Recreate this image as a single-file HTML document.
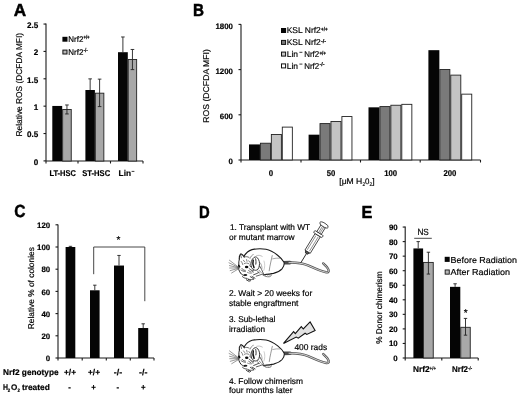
<!DOCTYPE html>
<html><head><meta charset="utf-8"><style>
html,body{margin:0;padding:0;background:#fff;}
svg{display:block;filter:blur(0.3px);}
text{font-family:"Liberation Sans",sans-serif;text-rendering:geometricPrecision;stroke:#000;stroke-width:0.18px;}
</style></head><body>
<svg width="520" height="397" viewBox="0 0 520 397">
<rect width="520" height="397" fill="#fff"/>
<text x="13.70" y="15.50" font-size="17.4" font-weight="bold" textLength="12.40" lengthAdjust="spacingAndGlyphs" fill="#000" style="stroke-width:0.5px">A</text>
<line x1="46.00" y1="23.50" x2="46.00" y2="161.00" stroke="#1a1a1a" stroke-width="1.1"/>
<line x1="46.00" y1="161.00" x2="143.00" y2="161.00" stroke="#1a1a1a" stroke-width="1.1"/>
<line x1="43.50" y1="160.90" x2="46.00" y2="160.90" stroke="#1a1a1a" stroke-width="1.1"/>
<text x="33.70" y="164.80" font-size="8.1" font-weight="bold" textLength="4.50" lengthAdjust="spacingAndGlyphs" fill="#000" >0</text>
<line x1="43.50" y1="133.53" x2="46.00" y2="133.53" stroke="#1a1a1a" stroke-width="1.1"/>
<text x="26.94" y="137.43" font-size="8.1" font-weight="bold" textLength="11.26" lengthAdjust="spacingAndGlyphs" fill="#000" >0.5</text>
<line x1="43.50" y1="106.16" x2="46.00" y2="106.16" stroke="#1a1a1a" stroke-width="1.1"/>
<text x="33.70" y="110.06" font-size="8.1" font-weight="bold" textLength="4.50" lengthAdjust="spacingAndGlyphs" fill="#000" >1</text>
<line x1="43.50" y1="78.79" x2="46.00" y2="78.79" stroke="#1a1a1a" stroke-width="1.1"/>
<text x="26.94" y="82.69" font-size="8.1" font-weight="bold" textLength="11.26" lengthAdjust="spacingAndGlyphs" fill="#000" >1.5</text>
<line x1="43.50" y1="51.42" x2="46.00" y2="51.42" stroke="#1a1a1a" stroke-width="1.1"/>
<text x="33.70" y="55.32" font-size="8.1" font-weight="bold" textLength="4.50" lengthAdjust="spacingAndGlyphs" fill="#000" >2</text>
<line x1="43.50" y1="24.05" x2="46.00" y2="24.05" stroke="#1a1a1a" stroke-width="1.1"/>
<text x="26.94" y="27.95" font-size="8.1" font-weight="bold" textLength="11.26" lengthAdjust="spacingAndGlyphs" fill="#000" >2.5</text>
<line x1="46.00" y1="161.00" x2="46.00" y2="163.50" stroke="#1a1a1a" stroke-width="1.1"/>
<line x1="78.00" y1="161.00" x2="78.00" y2="163.50" stroke="#1a1a1a" stroke-width="1.1"/>
<line x1="110.50" y1="161.00" x2="110.50" y2="163.50" stroke="#1a1a1a" stroke-width="1.1"/>
<line x1="143.00" y1="161.00" x2="143.00" y2="163.50" stroke="#1a1a1a" stroke-width="1.1"/>
<text x="22.20" y="84.70" font-size="8.4" text-anchor="middle" textLength="103.50" lengthAdjust="spacingAndGlyphs" transform="rotate(-90 22.20 84.70)">Relative ROS (DCFDA MFI)</text>
<rect x="52.30" y="105.95" width="9.90" height="55.05" fill="#050505"/>
<rect x="62.65" y="109.50" width="8.60" height="51.55" fill="#a8a8a8" stroke="#222" stroke-width="0.9"/>
<rect x="85.40" y="90.01" width="9.50" height="70.99" fill="#050505"/>
<rect x="95.35" y="93.18" width="8.50" height="67.87" fill="#a8a8a8" stroke="#222" stroke-width="0.9"/>
<rect x="118.00" y="52.20" width="9.80" height="108.80" fill="#050505"/>
<rect x="128.25" y="59.45" width="8.40" height="101.60" fill="#a8a8a8" stroke="#222" stroke-width="0.9"/>
<line x1="66.95" y1="104.97" x2="66.95" y2="113.94" stroke="#222" stroke-width="0.9"/>
<line x1="65.15" y1="104.97" x2="68.75" y2="104.97" stroke="#222" stroke-width="0.9"/>
<line x1="65.15" y1="113.94" x2="68.75" y2="113.94" stroke="#222" stroke-width="0.9"/>
<line x1="90.15" y1="78.86" x2="90.15" y2="90.01" stroke="#222" stroke-width="0.9"/>
<line x1="88.35" y1="78.86" x2="91.95" y2="78.86" stroke="#222" stroke-width="0.9"/>
<line x1="99.60" y1="79.13" x2="99.60" y2="106.60" stroke="#222" stroke-width="0.9"/>
<line x1="97.80" y1="79.13" x2="101.40" y2="79.13" stroke="#222" stroke-width="0.9"/>
<line x1="97.80" y1="106.60" x2="101.40" y2="106.60" stroke="#222" stroke-width="0.9"/>
<line x1="122.90" y1="36.97" x2="122.90" y2="52.20" stroke="#222" stroke-width="0.9"/>
<line x1="121.10" y1="36.97" x2="124.70" y2="36.97" stroke="#222" stroke-width="0.9"/>
<line x1="132.45" y1="49.48" x2="132.45" y2="69.61" stroke="#222" stroke-width="0.9"/>
<line x1="130.65" y1="49.48" x2="134.25" y2="49.48" stroke="#222" stroke-width="0.9"/>
<line x1="130.65" y1="69.61" x2="134.25" y2="69.61" stroke="#222" stroke-width="0.9"/>
<text x="49.40" y="176.00" font-size="8.4" font-weight="bold" textLength="26.60" lengthAdjust="spacingAndGlyphs" fill="#000" >LT-HSC</text>
<text x="82.20" y="176.00" font-size="8.4" font-weight="bold" textLength="28.00" lengthAdjust="spacingAndGlyphs" fill="#000" >ST-HSC</text>
<text x="118.60" y="176.00" font-size="8.4" font-weight="bold" textLength="12.40" lengthAdjust="spacingAndGlyphs" fill="#000" >Lin</text>
<line x1="131.60" y1="171.40" x2="134.40" y2="171.40" stroke="#222" stroke-width="0.9"/>
<rect x="62.40" y="36.80" width="5.10" height="4.90" fill="#050505"/>
<text x="68.30" y="41.90" font-size="8.2" textLength="15.00" lengthAdjust="spacingAndGlyphs" fill="#000" >Nrf2</text>
<text x="83.40" y="39.20" font-size="5.6" font-weight="bold" textLength="6.20" lengthAdjust="spacingAndGlyphs" fill="#000" >+/+</text>
<rect x="62.90" y="50.10" width="4.10" height="3.90" fill="#b8b8b8" stroke="#111" stroke-width="1.0"/>
<text x="68.30" y="54.70" font-size="8.2" textLength="15.00" lengthAdjust="spacingAndGlyphs" fill="#000" >Nrf2</text>
<text x="83.40" y="52.00" font-size="5.6" font-weight="bold" textLength="4.40" lengthAdjust="spacingAndGlyphs" fill="#000" >-/-</text>
<text x="193.10" y="15.50" font-size="17.4" font-weight="bold" textLength="11.00" lengthAdjust="spacingAndGlyphs" fill="#000" style="stroke-width:0.5px">B</text>
<line x1="241.00" y1="24.20" x2="241.00" y2="160.00" stroke="#1a1a1a" stroke-width="1.1"/>
<line x1="241.00" y1="160.00" x2="480.50" y2="160.00" stroke="#1a1a1a" stroke-width="1.1"/>
<line x1="238.50" y1="160.00" x2="241.00" y2="160.00" stroke="#1a1a1a" stroke-width="1.1"/>
<text x="228.61" y="164.10" font-size="7.9" font-weight="bold" textLength="4.39" lengthAdjust="spacingAndGlyphs" fill="#000" >0</text>
<line x1="238.50" y1="114.80" x2="241.00" y2="114.80" stroke="#1a1a1a" stroke-width="1.1"/>
<text x="219.82" y="118.90" font-size="7.9" font-weight="bold" textLength="13.18" lengthAdjust="spacingAndGlyphs" fill="#000" >600</text>
<line x1="238.50" y1="69.60" x2="241.00" y2="69.60" stroke="#1a1a1a" stroke-width="1.1"/>
<text x="215.43" y="73.70" font-size="7.9" font-weight="bold" textLength="17.57" lengthAdjust="spacingAndGlyphs" fill="#000" >1200</text>
<line x1="238.50" y1="24.40" x2="241.00" y2="24.40" stroke="#1a1a1a" stroke-width="1.1"/>
<text x="215.43" y="28.50" font-size="7.9" font-weight="bold" textLength="17.57" lengthAdjust="spacingAndGlyphs" fill="#000" >1800</text>
<line x1="241.00" y1="160.00" x2="241.00" y2="162.50" stroke="#1a1a1a" stroke-width="1.1"/>
<line x1="301.00" y1="160.00" x2="301.00" y2="162.50" stroke="#1a1a1a" stroke-width="1.1"/>
<line x1="360.50" y1="160.00" x2="360.50" y2="162.50" stroke="#1a1a1a" stroke-width="1.1"/>
<line x1="420.20" y1="160.00" x2="420.20" y2="162.50" stroke="#1a1a1a" stroke-width="1.1"/>
<line x1="480.50" y1="160.00" x2="480.50" y2="162.50" stroke="#1a1a1a" stroke-width="1.1"/>
<text x="209.30" y="85.90" font-size="8.4" text-anchor="middle" textLength="73.60" lengthAdjust="spacingAndGlyphs" transform="rotate(-90 209.30 85.90)">ROS (DCFDA MFI)</text>
<rect x="249.00" y="144.42" width="10.95" height="15.58" fill="#050505"/>
<rect x="260.40" y="143.22" width="10.05" height="16.73" fill="#7a7a7a" stroke="#222" stroke-width="0.9"/>
<rect x="271.35" y="134.45" width="10.05" height="25.50" fill="#c4c4c4" stroke="#222" stroke-width="0.9"/>
<rect x="282.30" y="127.11" width="10.05" height="32.84" fill="#ffffff" stroke="#222" stroke-width="0.9"/>
<rect x="308.60" y="134.68" width="10.95" height="25.32" fill="#050505"/>
<rect x="320.00" y="123.59" width="10.05" height="36.36" fill="#7a7a7a" stroke="#222" stroke-width="0.9"/>
<rect x="330.95" y="121.49" width="10.05" height="38.46" fill="#c4c4c4" stroke="#222" stroke-width="0.9"/>
<rect x="341.90" y="116.55" width="10.05" height="43.40" fill="#ffffff" stroke="#222" stroke-width="0.9"/>
<rect x="368.50" y="107.33" width="10.95" height="52.67" fill="#050505"/>
<rect x="379.90" y="106.58" width="10.05" height="53.37" fill="#7a7a7a" stroke="#222" stroke-width="0.9"/>
<rect x="390.85" y="105.24" width="10.05" height="54.71" fill="#c4c4c4" stroke="#222" stroke-width="0.9"/>
<rect x="401.80" y="104.34" width="10.05" height="55.61" fill="#ffffff" stroke="#222" stroke-width="0.9"/>
<rect x="428.40" y="50.17" width="10.95" height="109.83" fill="#050505"/>
<rect x="439.80" y="69.50" width="10.05" height="90.45" fill="#7a7a7a" stroke="#222" stroke-width="0.9"/>
<rect x="450.75" y="75.12" width="10.05" height="84.83" fill="#c4c4c4" stroke="#222" stroke-width="0.9"/>
<rect x="461.70" y="94.15" width="10.05" height="65.80" fill="#ffffff" stroke="#222" stroke-width="0.9"/>
<text x="268.70" y="176.40" font-size="8.4" font-weight="bold" textLength="4.40" lengthAdjust="spacingAndGlyphs" fill="#000" >0</text>
<text x="326.70" y="176.40" font-size="8.4" font-weight="bold" textLength="8.60" lengthAdjust="spacingAndGlyphs" fill="#000" >50</text>
<text x="384.20" y="176.40" font-size="8.4" font-weight="bold" textLength="13.00" lengthAdjust="spacingAndGlyphs" fill="#000" >100</text>
<text x="443.40" y="176.40" font-size="8.4" font-weight="bold" textLength="13.00" lengthAdjust="spacingAndGlyphs" fill="#000" >200</text>
<text x="339.30" y="183.50" font-size="8.2" textLength="23.00" lengthAdjust="spacingAndGlyphs" fill="#000" >[μM H</text>
<text x="362.40" y="185.50" font-size="5.4" textLength="2.60" lengthAdjust="spacingAndGlyphs" fill="#000" >2</text>
<text x="365.00" y="183.50" font-size="8.2" textLength="4.40" lengthAdjust="spacingAndGlyphs" fill="#000" >0</text>
<text x="369.40" y="185.50" font-size="5.4" textLength="2.60" lengthAdjust="spacingAndGlyphs" fill="#000" >2</text>
<text x="372.20" y="183.50" font-size="8.2" textLength="2.40" lengthAdjust="spacingAndGlyphs" fill="#000" >]</text>
<rect x="281.00" y="28.00" width="5.10" height="5.00" fill="#050505"/>
<text x="286.70" y="33.10" font-size="8.4" textLength="34.10" lengthAdjust="spacingAndGlyphs" fill="#000" >KSL Nrf2</text>
<text x="321.00" y="30.90" font-size="5.6" font-weight="bold" textLength="6.60" lengthAdjust="spacingAndGlyphs" fill="#000" >+/+</text>
<rect x="281.50" y="40.40" width="4.10" height="4.00" fill="#7a7a7a" stroke="#111" stroke-width="1.0"/>
<text x="286.70" y="45.00" font-size="8.4" textLength="34.10" lengthAdjust="spacingAndGlyphs" fill="#000" >KSL Nrf2</text>
<text x="321.00" y="42.80" font-size="5.4" font-weight="bold" textLength="5.20" lengthAdjust="spacingAndGlyphs" fill="#000" >-/-</text>
<rect x="281.50" y="52.10" width="4.10" height="4.00" fill="#c4c4c4" stroke="#111" stroke-width="1.0"/>
<text x="286.70" y="56.70" font-size="8.4" textLength="11.30" lengthAdjust="spacingAndGlyphs" fill="#000" >Lin</text>
<line x1="299.40" y1="52.30" x2="302.40" y2="52.30" stroke="#222" stroke-width="0.9"/>
<text x="304.20" y="56.70" font-size="8.4" textLength="15.00" lengthAdjust="spacingAndGlyphs" fill="#000" >Nrf2</text>
<text x="319.40" y="54.50" font-size="5.6" font-weight="bold" textLength="6.60" lengthAdjust="spacingAndGlyphs" fill="#000" >+/+</text>
<rect x="281.50" y="63.90" width="4.10" height="4.00" fill="#ffffff" stroke="#111" stroke-width="1.0"/>
<text x="286.70" y="68.50" font-size="8.4" textLength="11.30" lengthAdjust="spacingAndGlyphs" fill="#000" >Lin</text>
<line x1="299.40" y1="64.10" x2="302.40" y2="64.10" stroke="#222" stroke-width="0.9"/>
<text x="304.20" y="68.50" font-size="8.4" textLength="15.00" lengthAdjust="spacingAndGlyphs" fill="#000" >Nrf2</text>
<text x="319.40" y="66.30" font-size="5.4" font-weight="bold" textLength="5.20" lengthAdjust="spacingAndGlyphs" fill="#000" >-/-</text>
<text x="14.30" y="217.20" font-size="17.4" font-weight="bold" textLength="11.20" lengthAdjust="spacingAndGlyphs" fill="#000" style="stroke-width:0.5px">C</text>
<line x1="58.00" y1="224.60" x2="58.00" y2="358.00" stroke="#1a1a1a" stroke-width="1.1"/>
<line x1="58.00" y1="358.00" x2="154.00" y2="358.00" stroke="#1a1a1a" stroke-width="1.1"/>
<line x1="55.50" y1="358.00" x2="58.00" y2="358.00" stroke="#1a1a1a" stroke-width="1.1"/>
<text x="45.81" y="361.10" font-size="7.9" font-weight="bold" textLength="4.39" lengthAdjust="spacingAndGlyphs" fill="#000" >0</text>
<line x1="55.50" y1="335.80" x2="58.00" y2="335.80" stroke="#1a1a1a" stroke-width="1.1"/>
<text x="41.41" y="338.90" font-size="7.9" font-weight="bold" textLength="8.79" lengthAdjust="spacingAndGlyphs" fill="#000" >20</text>
<line x1="55.50" y1="313.60" x2="58.00" y2="313.60" stroke="#1a1a1a" stroke-width="1.1"/>
<text x="41.41" y="316.70" font-size="7.9" font-weight="bold" textLength="8.79" lengthAdjust="spacingAndGlyphs" fill="#000" >40</text>
<line x1="55.50" y1="291.40" x2="58.00" y2="291.40" stroke="#1a1a1a" stroke-width="1.1"/>
<text x="41.41" y="294.50" font-size="7.9" font-weight="bold" textLength="8.79" lengthAdjust="spacingAndGlyphs" fill="#000" >60</text>
<line x1="55.50" y1="269.20" x2="58.00" y2="269.20" stroke="#1a1a1a" stroke-width="1.1"/>
<text x="41.41" y="272.30" font-size="7.9" font-weight="bold" textLength="8.79" lengthAdjust="spacingAndGlyphs" fill="#000" >80</text>
<line x1="55.50" y1="247.00" x2="58.00" y2="247.00" stroke="#1a1a1a" stroke-width="1.1"/>
<text x="37.02" y="250.10" font-size="7.9" font-weight="bold" textLength="13.18" lengthAdjust="spacingAndGlyphs" fill="#000" >100</text>
<line x1="55.50" y1="224.80" x2="58.00" y2="224.80" stroke="#1a1a1a" stroke-width="1.1"/>
<text x="37.02" y="227.90" font-size="7.9" font-weight="bold" textLength="13.18" lengthAdjust="spacingAndGlyphs" fill="#000" >120</text>
<line x1="58.00" y1="358.00" x2="58.00" y2="360.50" stroke="#1a1a1a" stroke-width="1.1"/>
<line x1="82.20" y1="358.00" x2="82.20" y2="360.50" stroke="#1a1a1a" stroke-width="1.1"/>
<line x1="106.30" y1="358.00" x2="106.30" y2="360.50" stroke="#1a1a1a" stroke-width="1.1"/>
<line x1="130.30" y1="358.00" x2="130.30" y2="360.50" stroke="#1a1a1a" stroke-width="1.1"/>
<line x1="154.00" y1="358.00" x2="154.00" y2="360.50" stroke="#1a1a1a" stroke-width="1.1"/>
<text x="33.90" y="288.20" font-size="8.4" text-anchor="middle" textLength="82.00" lengthAdjust="spacingAndGlyphs" transform="rotate(-90 33.90 288.20)">Relative % of colonies</text>
<rect x="65.60" y="247.00" width="9.70" height="111.00" fill="#050505"/>
<line x1="70.45" y1="246.33" x2="70.45" y2="247.00" stroke="#222" stroke-width="0.9"/>
<line x1="68.75" y1="246.33" x2="72.15" y2="246.33" stroke="#222" stroke-width="0.9"/>
<rect x="90.00" y="290.29" width="9.60" height="67.71" fill="#050505"/>
<line x1="94.80" y1="285.18" x2="94.80" y2="290.29" stroke="#222" stroke-width="0.9"/>
<line x1="93.10" y1="285.18" x2="96.50" y2="285.18" stroke="#222" stroke-width="0.9"/>
<rect x="114.00" y="265.54" width="10.00" height="92.46" fill="#050505"/>
<line x1="119.00" y1="255.44" x2="119.00" y2="265.54" stroke="#222" stroke-width="0.9"/>
<line x1="117.30" y1="255.44" x2="120.70" y2="255.44" stroke="#222" stroke-width="0.9"/>
<rect x="138.20" y="328.03" width="10.00" height="29.97" fill="#050505"/>
<line x1="143.20" y1="323.81" x2="143.20" y2="328.03" stroke="#222" stroke-width="0.9"/>
<line x1="141.50" y1="323.81" x2="144.90" y2="323.81" stroke="#222" stroke-width="0.9"/>
<polyline points="93.7,274.2 93.7,247.0 144.8,247.0 144.8,301.2" fill="none" stroke="#333" stroke-width="0.9"/>
<text x="118.40" y="243.40" font-size="10.0" text-anchor="middle" fill="#000" >*</text>
<text x="3.00" y="375.40" font-size="8.2" font-weight="bold" textLength="55.60" lengthAdjust="spacingAndGlyphs" fill="#000" >Nrf2 genotype</text>
<text x="2.90" y="390.20" font-size="8.2" font-weight="bold" textLength="5.00" lengthAdjust="spacingAndGlyphs" fill="#000" >H</text>
<text x="7.80" y="392.20" font-size="5.0" font-weight="bold" textLength="2.40" lengthAdjust="spacingAndGlyphs" fill="#000" >2</text>
<text x="10.90" y="390.20" font-size="8.2" font-weight="bold" textLength="6.30" lengthAdjust="spacingAndGlyphs" fill="#000" >O</text>
<text x="17.40" y="392.20" font-size="5.0" font-weight="bold" textLength="2.40" lengthAdjust="spacingAndGlyphs" fill="#000" >2</text>
<text x="21.90" y="390.20" font-size="8.2" font-weight="bold" textLength="27.90" lengthAdjust="spacingAndGlyphs" fill="#000" >treated</text>
<text x="64.00" y="375.40" font-size="8.4" font-weight="bold" textLength="12.00" lengthAdjust="spacingAndGlyphs" fill="#000" >+/+</text>
<text x="88.00" y="375.40" font-size="8.4" font-weight="bold" textLength="12.00" lengthAdjust="spacingAndGlyphs" fill="#000" >+/+</text>
<text x="113.80" y="375.40" font-size="8.4" font-weight="bold" textLength="8.40" lengthAdjust="spacingAndGlyphs" fill="#000" >-/-</text>
<text x="139.00" y="375.40" font-size="8.4" font-weight="bold" textLength="8.40" lengthAdjust="spacingAndGlyphs" fill="#000" >-/-</text>
<text x="68.30" y="390.20" font-size="8.4" font-weight="bold" textLength="2.60" lengthAdjust="spacingAndGlyphs" fill="#000" >-</text>
<text x="91.30" y="390.20" font-size="8.4" font-weight="bold" textLength="4.60" lengthAdjust="spacingAndGlyphs" fill="#000" >+</text>
<text x="116.60" y="390.20" font-size="8.4" font-weight="bold" textLength="2.60" lengthAdjust="spacingAndGlyphs" fill="#000" >-</text>
<text x="140.90" y="390.20" font-size="8.4" font-weight="bold" textLength="4.60" lengthAdjust="spacingAndGlyphs" fill="#000" >+</text>
<text x="361.60" y="218.20" font-size="17.4" font-weight="bold" textLength="10.90" lengthAdjust="spacingAndGlyphs" fill="#000" style="stroke-width:0.5px">E</text>
<line x1="405.20" y1="226.60" x2="405.20" y2="358.00" stroke="#1a1a1a" stroke-width="1.1"/>
<line x1="405.20" y1="358.00" x2="478.20" y2="358.00" stroke="#1a1a1a" stroke-width="1.1"/>
<line x1="402.70" y1="358.00" x2="405.20" y2="358.00" stroke="#1a1a1a" stroke-width="1.1"/>
<text x="393.31" y="361.00" font-size="7.9" font-weight="bold" textLength="4.39" lengthAdjust="spacingAndGlyphs" fill="#000" >0</text>
<line x1="402.70" y1="343.45" x2="405.20" y2="343.45" stroke="#1a1a1a" stroke-width="1.1"/>
<text x="388.91" y="346.45" font-size="7.9" font-weight="bold" textLength="8.79" lengthAdjust="spacingAndGlyphs" fill="#000" >10</text>
<line x1="402.70" y1="328.90" x2="405.20" y2="328.90" stroke="#1a1a1a" stroke-width="1.1"/>
<text x="388.91" y="331.90" font-size="7.9" font-weight="bold" textLength="8.79" lengthAdjust="spacingAndGlyphs" fill="#000" >20</text>
<line x1="402.70" y1="314.35" x2="405.20" y2="314.35" stroke="#1a1a1a" stroke-width="1.1"/>
<text x="388.91" y="317.35" font-size="7.9" font-weight="bold" textLength="8.79" lengthAdjust="spacingAndGlyphs" fill="#000" >30</text>
<line x1="402.70" y1="299.80" x2="405.20" y2="299.80" stroke="#1a1a1a" stroke-width="1.1"/>
<text x="388.91" y="302.80" font-size="7.9" font-weight="bold" textLength="8.79" lengthAdjust="spacingAndGlyphs" fill="#000" >40</text>
<line x1="402.70" y1="285.25" x2="405.20" y2="285.25" stroke="#1a1a1a" stroke-width="1.1"/>
<text x="388.91" y="288.25" font-size="7.9" font-weight="bold" textLength="8.79" lengthAdjust="spacingAndGlyphs" fill="#000" >50</text>
<line x1="402.70" y1="270.70" x2="405.20" y2="270.70" stroke="#1a1a1a" stroke-width="1.1"/>
<text x="388.91" y="273.70" font-size="7.9" font-weight="bold" textLength="8.79" lengthAdjust="spacingAndGlyphs" fill="#000" >60</text>
<line x1="402.70" y1="256.15" x2="405.20" y2="256.15" stroke="#1a1a1a" stroke-width="1.1"/>
<text x="388.91" y="259.15" font-size="7.9" font-weight="bold" textLength="8.79" lengthAdjust="spacingAndGlyphs" fill="#000" >70</text>
<line x1="402.70" y1="241.60" x2="405.20" y2="241.60" stroke="#1a1a1a" stroke-width="1.1"/>
<text x="388.91" y="244.60" font-size="7.9" font-weight="bold" textLength="8.79" lengthAdjust="spacingAndGlyphs" fill="#000" >80</text>
<line x1="402.70" y1="227.05" x2="405.20" y2="227.05" stroke="#1a1a1a" stroke-width="1.1"/>
<text x="388.91" y="230.05" font-size="7.9" font-weight="bold" textLength="8.79" lengthAdjust="spacingAndGlyphs" fill="#000" >90</text>
<line x1="405.20" y1="358.00" x2="405.20" y2="360.50" stroke="#1a1a1a" stroke-width="1.1"/>
<line x1="441.80" y1="358.00" x2="441.80" y2="360.50" stroke="#1a1a1a" stroke-width="1.1"/>
<line x1="478.20" y1="358.00" x2="478.20" y2="360.50" stroke="#1a1a1a" stroke-width="1.1"/>
<text x="382.30" y="307.60" font-size="8.4" text-anchor="middle" textLength="72.50" lengthAdjust="spacingAndGlyphs" transform="rotate(-90 382.30 307.60)">% Donor chimerism</text>
<rect x="413.40" y="248.44" width="9.70" height="109.56" fill="#050505"/>
<rect x="423.55" y="262.42" width="9.70" height="95.53" fill="#a8a8a8" stroke="#222" stroke-width="0.9"/>
<rect x="450.00" y="286.85" width="10.30" height="71.15" fill="#050505"/>
<rect x="460.75" y="327.31" width="9.50" height="30.64" fill="#a8a8a8" stroke="#222" stroke-width="0.9"/>
<line x1="418.20" y1="241.60" x2="418.20" y2="248.44" stroke="#222" stroke-width="0.9"/>
<line x1="416.50" y1="241.60" x2="419.90" y2="241.60" stroke="#222" stroke-width="0.9"/>
<line x1="428.40" y1="252.22" x2="428.40" y2="274.05" stroke="#222" stroke-width="0.9"/>
<line x1="426.70" y1="252.22" x2="430.10" y2="252.22" stroke="#222" stroke-width="0.9"/>
<line x1="426.70" y1="274.05" x2="430.10" y2="274.05" stroke="#222" stroke-width="0.9"/>
<line x1="455.10" y1="283.79" x2="455.10" y2="286.85" stroke="#222" stroke-width="0.9"/>
<line x1="453.40" y1="283.79" x2="456.80" y2="283.79" stroke="#222" stroke-width="0.9"/>
<line x1="465.50" y1="318.42" x2="465.50" y2="335.16" stroke="#222" stroke-width="0.9"/>
<line x1="463.80" y1="318.42" x2="467.20" y2="318.42" stroke="#222" stroke-width="0.9"/>
<line x1="463.80" y1="335.16" x2="467.20" y2="335.16" stroke="#222" stroke-width="0.9"/>
<text x="417.40" y="235.30" font-size="9.0" textLength="11.40" lengthAdjust="spacingAndGlyphs" fill="#000" >NS</text>
<line x1="414.20" y1="238.30" x2="431.80" y2="238.30" stroke="#333" stroke-width="0.9"/>
<text x="465.60" y="316.00" font-size="10.0" text-anchor="middle" fill="#000" >*</text>
<rect x="444.70" y="256.80" width="5.00" height="5.10" fill="#050505"/>
<text x="450.60" y="262.50" font-size="8.6" textLength="66.40" lengthAdjust="spacingAndGlyphs" fill="#000" >Before Radiation</text>
<rect x="445.15" y="269.95" width="4.10" height="4.20" fill="#b8b8b8" stroke="#111" stroke-width="0.9"/>
<text x="450.40" y="274.90" font-size="8.6" textLength="59.60" lengthAdjust="spacingAndGlyphs" fill="#000" >After Radiation</text>
<text x="413.00" y="372.40" font-size="8.4" font-weight="bold" textLength="16.60" lengthAdjust="spacingAndGlyphs" fill="#000" >Nrf2</text>
<text x="429.60" y="369.60" font-size="5.2" font-weight="bold" textLength="6.40" lengthAdjust="spacingAndGlyphs" fill="#000" >+/+</text>
<text x="452.00" y="372.40" font-size="8.4" font-weight="bold" textLength="16.00" lengthAdjust="spacingAndGlyphs" fill="#000" >Nrf2</text>
<text x="468.20" y="369.60" font-size="5.2" font-weight="bold" textLength="4.00" lengthAdjust="spacingAndGlyphs" fill="#000" >-/-</text>
<text x="198.90" y="217.90" font-size="17.4" font-weight="bold" textLength="10.70" lengthAdjust="spacingAndGlyphs" fill="#000" style="stroke-width:0.5px">D</text>
<text x="229.90" y="230.30" font-size="8.4" textLength="80.30" lengthAdjust="spacingAndGlyphs" fill="#000" >1. Transplant with WT</text>
<text x="229.00" y="240.30" font-size="8.4" textLength="65.60" lengthAdjust="spacingAndGlyphs" fill="#000" >or mutant marrow</text>
<text x="229.00" y="296.00" font-size="8.4" textLength="83.20" lengthAdjust="spacingAndGlyphs" fill="#000" >2. Wait &gt; 20 weeks for</text>
<text x="229.00" y="305.50" font-size="8.4" textLength="69.40" lengthAdjust="spacingAndGlyphs" fill="#000" >stable engraftment</text>
<text x="229.00" y="322.40" font-size="8.4" textLength="46.30" lengthAdjust="spacingAndGlyphs" fill="#000" >3. Sub-lethal</text>
<text x="229.00" y="332.00" font-size="8.4" textLength="36.00" lengthAdjust="spacingAndGlyphs" fill="#000" >irradiation</text>
<text x="294.40" y="350.20" font-size="8.4" textLength="32.80" lengthAdjust="spacingAndGlyphs" fill="#000" >400 rads</text>
<text x="229.00" y="383.60" font-size="8.4" textLength="74.00" lengthAdjust="spacingAndGlyphs" fill="#000" >4. Follow chimerism</text>
<text x="229.00" y="393.30" font-size="8.4" textLength="63.60" lengthAdjust="spacingAndGlyphs" fill="#000" >four months later</text>

<g id="mouse" fill="none" stroke="#1a1a1a" stroke-linecap="round" stroke-linejoin="round">
  <!-- tail: dark base + tube -->
  <path d="M283.4,262.7 L290.0,262.6" stroke="#4a4a4a" stroke-width="3.6"/>
  <path d="M289.0,262.6 C296,262.4 302,263.0 308,265.4 C315,268.4 321,271.4 326.2,272.3 C329.8,272.8 330.0,269.4 323.2,263.4" stroke="#555" stroke-width="2.4"/>
  <path d="M289.0,262.6 C296,262.4 302,263.0 308,265.4 C315,268.4 321,271.4 326.2,272.3 C329.8,272.8 330.0,269.4 323.2,263.4" stroke="#e0e0e0" stroke-width="0.9"/>
  <!-- body fill -->
  <path d="M244.7,255.5 C246.5,252.8 249,250.4 252,249.6 C256,248.8 262,248.6 266,249.3 C270,250.0 274,252.4 277.6,255.2 C280.4,257.4 282.8,259.8 284.0,262.3 C284.6,264.4 283.8,266.6 282,268.8 C280,271.0 277,272.4 273.5,273.4 L264,275.4 L256,278.6 L248,281.4 L242.4,277 L238.6,272.6 L237.6,266 L238.8,259 L240.6,254 L243.4,257.2 Z" fill="#fff" stroke="none"/>
  <!-- back outline -->
  <path d="M243.8,256.6 C246.0,252.8 249,250.4 252,249.6 C256,248.8 262,248.6 266,249.3 C270,250.0 274,252.4 277.6,255.2 C280.4,257.4 282.8,259.8 284.0,262.3 C284.6,264.4 283.8,266.6 282,268.8 C280,271.0 277,272.4 273.5,273.4 C270.6,274.0 267,274.4 263.4,274.8" stroke-width="1.1"/>
  <!-- haunch -->
  <path d="M272.6,258.8 C274.8,258.2 277.4,258.0 279.8,258.2" stroke-width="0.5" stroke="#555"/>
  <path d="M272.2,255.6 C271.6,257.6 271.4,260.0 270.6,263.0 C270.0,265.4 269.6,268.0 269.2,270.8" stroke-width="0.55" stroke="#444"/>
  <path d="M264.0,261.0 C265.0,264.0 265.0,267.4 263.8,270.4" stroke-width="0.4" stroke="#888"/>
  <!-- small ear -->
  <path d="M239.2,259.0 C239.0,257.0 239.6,255.0 240.8,253.8 C242.2,254.4 243.4,255.6 244.2,257.0" fill="#fff" stroke-width="1.05"/>
  <path d="M240.8,255.4 L241.4,257.8" stroke-width="0.7" stroke="#333"/>
  <!-- head left outline -->
  <path d="M239.4,258.8 C238.8,260.8 238.6,263.0 238.8,265.0 C238.2,266.6 238.2,268.2 238.8,269.6 C239.2,271.0 239.8,272.2 240.6,273.2" stroke-width="0.95"/>
  <!-- nose -->
  <path d="M238.8,265.4 L239.6,266.8" stroke-width="1.6" stroke="#0a0a0a"/>
  <!-- face hatching -->
  <path d="M243.4,260.2 L244.6,261.8 M246.6,259.6 L247.0,261.4 M248.8,260.8 L249.8,262.2" stroke-width="0.6" stroke="#333"/>
  <path d="M241.2,261.4 C242.0,262.4 242.6,263.4 242.8,264.6" stroke-width="0.6" stroke="#333"/>
  <path d="M244.2,263.6 C245.6,262.8 247.6,262.8 249.0,263.8" stroke-width="0.6" stroke="#333"/>
  <!-- eye -->
  <ellipse cx="246.6" cy="267.0" rx="1.7" ry="1.3" fill="#0a0a0a" stroke="none"/>
  <!-- big ear -->
  <path d="M251.0,266.4 C250.4,262.8 251.6,259.4 254.0,257.4 C255.8,256.2 257.6,257.4 258.6,259.6 C259.8,262.0 259.8,265.0 258.8,267.8 C257.8,270.0 256.0,270.8 254.2,270.0 C252.6,269.2 251.4,268.0 251.0,266.4 Z" fill="#fff" stroke-width="0.85"/>
  <path d="M253.2,260.2 C252.6,262.4 252.8,265.2 254.0,267.6" stroke-width="1.5" stroke="#111"/>
  <path d="M255.6,258.8 C256.0,260.4 256.2,262.4 255.8,264.2" stroke-width="0.9" stroke="#222"/>
  <!-- cheek -->
  <path d="M249.0,268.4 C250.2,269.8 251.8,270.6 253.6,270.8" stroke-width="0.7"/>
  <path d="M259.6,266.0 C261.0,268.4 262.4,270.6 263.2,273.0" stroke-width="0.7"/>
  <path d="M250.6,264.0 L249.2,266.0" stroke-width="0.5" stroke="#555"/>
  <!-- mouth/chin -->
  <path d="M240.6,273.2 C241.8,274.4 243.0,275.2 244.4,275.6" stroke-width="0.9"/>
  <ellipse cx="245.4" cy="275.0" rx="1.9" ry="1.0" fill="#1a1a1a" stroke="none"/>
  <path d="M241.0,270.0 C242.4,271.0 243.8,271.6 245.4,271.6" stroke-width="0.7" stroke="#333"/>
  <path d="M247.4,272.4 C249.0,273.2 250.6,273.4 252.0,273.0" stroke-width="0.6" stroke="#444"/>
  <!-- front paws -->
  <path d="M242.4,276.6 C243.6,277.8 245.2,278.4 246.8,278.4" stroke-width="0.8"/>
  <path d="M246.4,279.8 L249.2,281.4 M247.8,279.0 L250.6,280.8" stroke-width="0.9" stroke="#222"/>
  <path d="M250.2,276.6 L253.6,278.8 M252.0,276.4 L255.0,278.2" stroke-width="0.8" stroke="#222"/>
  <path d="M253.6,274.8 C255.4,274.2 257.0,273.4 258.6,272.6" stroke-width="0.8"/>
  <!-- belly / hind foot -->
  <path d="M256.2,276.2 C258.6,275.6 261.0,274.6 263.4,273.6" stroke-width="0.7"/>
  <path d="M262.6,274.8 C264.6,276.2 266.8,277.0 269.2,276.8 C270.6,276.6 271.4,275.8 271.4,275.0" stroke-width="0.65" stroke="#444"/>
  <path d="M264.6,274.4 L265.8,276.4 M267.0,274.2 L268.2,276.2 M269.2,274.0 L270.0,275.8" stroke-width="0.5" stroke="#666"/>
  <!-- extra shading -->
  <path d="M244.4,257.0 C246.0,256.4 247.6,256.6 249.0,257.4" stroke-width="0.7" stroke="#333"/>
  <path d="M250.0,258.4 C250.6,256.6 251.8,255.2 253.2,254.6" stroke-width="0.6" stroke="#444"/>
  <path d="M242.0,268.6 C242.8,269.8 244.0,270.4 245.2,270.4" stroke-width="0.8" stroke="#222"/>
  <path d="M248.6,270.6 L250.8,272.0 M251.6,271.0 L253.4,272.2" stroke-width="0.7" stroke="#333"/>
  <path d="M257.2,271.0 L259.8,273.2 M259.0,270.2 L261.2,272.6" stroke-width="0.6" stroke="#444"/>
  <path d="M260.4,263.0 C261.4,264.6 262.0,266.4 262.0,268.4" stroke-width="0.5" stroke="#555"/>
  <path d="M256.6,255.6 C258.6,255.0 260.6,255.4 262.2,256.4" stroke-width="0.45" stroke="#777"/>
  <path d="M248.4,279.2 C250.4,279.8 252.2,279.8 253.8,279.2" stroke-width="0.8" stroke="#333"/>
  <!-- whiskers -->
  <g stroke="#555" stroke-width="0.6">
    <path d="M238.8,267.4 L229.4,260.2"/>
    <path d="M238.8,267.6 L229.0,262.8"/>
    <path d="M238.8,267.8 L229.4,265.6"/>
    <path d="M238.8,268.0 L229.6,268.0"/>
    <path d="M239.0,268.2 L230.2,270.6"/>
    <path d="M239.2,268.4 L231.6,273.0"/>
  </g>
</g>

<use href="#mouse" transform="translate(0.1 90.7)"/>

<g transform="translate(300.8 262.8) rotate(31.5)" fill="#fff" stroke="#222" stroke-width="0.75" stroke-linejoin="round">
  <line x1="0" y1="0" x2="0" y2="-11" stroke-width="0.85"/>
  <path d="M-1.2,-10.8 L1.2,-10.8 L2.4,-13.2 L-2.4,-13.2 Z" fill="#555"/>
  <rect x="-3.1" y="-32.4" width="6.2" height="19.4"/>
  <line x1="-1.3" y1="-14.4" x2="-1.3" y2="-31.2" stroke-width="0.45"/>
  <line x1="1.3" y1="-14.4" x2="1.3" y2="-31.2" stroke-width="0.45"/>
  <rect x="-5.0" y="-35.0" width="10.0" height="2.6" rx="1.0"/>
  <rect x="-2.6" y="-43.2" width="5.2" height="8.2"/>
  <line x1="-0.6" y1="-42.4" x2="-0.6" y2="-35.6" stroke-width="0.45"/>
  <line x1="0.9" y1="-42.4" x2="0.9" y2="-35.6" stroke-width="0.45"/>
  <ellipse cx="0" cy="-44.4" rx="4.8" ry="1.9"/>
</g>

<polygon points="283.5,343.4 293.6,331.6 295.3,333.6 301.3,326.6 303.3,329.0 310.1,321.9 315.1,330.6 306.8,334.4 305.1,333.2 298.3,338.2 296.2,337.0" fill="#e2e2e2" stroke="#111" stroke-width="1.1" stroke-linejoin="miter"/>
</svg>
</body></html>
